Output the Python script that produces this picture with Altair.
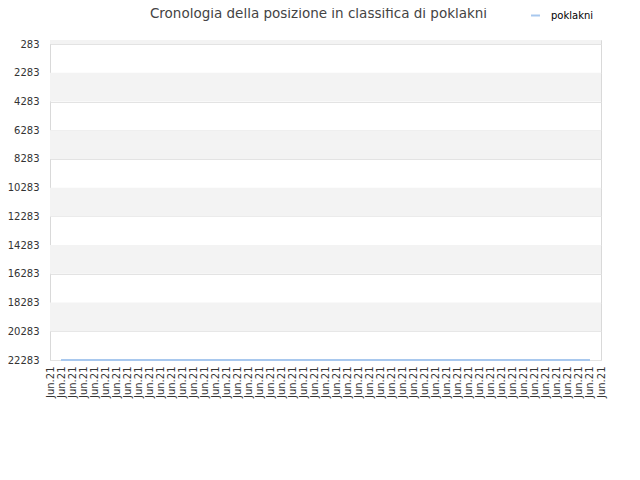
import altair as alt
import pandas as pd

# ---- data ----
x_labels = ["Jun.21"] * 51
series_name = "poklakni"
line_x = list(range(1, 50))
line_rank = [22283] * 49
y_ticks = [283, 2283, 4283, 6283, 8283, 10283, 12283, 14283, 16283, 18283, 20283, 22283]
band_starts = [0, 2283, 6283, 10283, 14283, 18283]
band_ends = [283, 4283, 8283, 12283, 16283, 20283]

W, H = 551, 320
FONT = "DejaVu Sans"

line_df = pd.DataFrame({"idx": line_x, "rank": line_rank, "serie": [series_name] * len(line_x)})
band_df = pd.DataFrame({"y0": band_starts, "y1": band_ends})

label_expr = "[" + ",".join("'" + s + "'" for s in x_labels) + "][datum.value]"

y_scale = alt.Scale(domain=[0, 22283], reverse=True, nice=False, zero=False)
x_scale = alt.Scale(domain=[0, len(x_labels) - 1], nice=False, zero=False)

y_axis = alt.Axis(
    values=y_ticks,
    format="d",
    labelFontSize=10,
    labelColor="#333333",
    labelFont=FONT,
    labelPadding=11,
    ticks=False,
    domain=False,
    grid=True,
    gridColor="#e3e3e3",
    labelOverlap=False,
)

bands = alt.Chart(band_df).mark_rect(color="#f3f3f3").encode(
    x=alt.value(0),
    x2=alt.value(W),
    y=alt.Y("y0:Q", scale=y_scale, axis=y_axis, title=None),
    y2="y1:Q",
)

line = alt.Chart(line_df).mark_line(strokeWidth=2).encode(
    x=alt.X(
        "idx:Q",
        scale=x_scale,
        title=None,
        axis=alt.Axis(
            values=list(range(len(x_labels))),
            labelExpr=label_expr,
            labelAngle=270,
            labelFontSize=10,
            labelColor="#333333",
            labelFont=FONT,
            labelPadding=6,
            ticks=False,
            domain=False,
            grid=False,
            labelOverlap=False,
        ),
    ),
    y=alt.Y("rank:Q", scale=y_scale, title=None, axis=y_axis),
    color=alt.Color(
        "serie:N",
        scale=alt.Scale(domain=[series_name], range=["#a8c8ee"]),
        legend=alt.Legend(
            title=None,
            orient="none",
            legendX=480,
            legendY=-30,
            symbolType="stroke",
            symbolStrokeWidth=2,
            symbolSize=80,
            labelOffset=10,
            labelFont=FONT,
            labelFontSize=10,
            labelColor="#000000",
        ),
    ),
)

chart = alt.layer(bands, line).properties(
    width=W,
    height=H,
    autosize=alt.AutoSizeParams(type="none"),
    padding={"left": 42, "top": 32, "right": 30, "bottom": 80},
    title=alt.TitleParams(
        "Cronologia della posizione in classifica di poklakni",
        font=FONT,
        fontSize=13.5,
        fontWeight="normal",
        color="#444444",
        anchor="middle",
        dx=-7,
        dy=10,
        offset=0,
    ),
).configure_view(stroke="#d9d9d9")

chart.save("out.html", embed_options={"renderer": "svg", "actions": False})
